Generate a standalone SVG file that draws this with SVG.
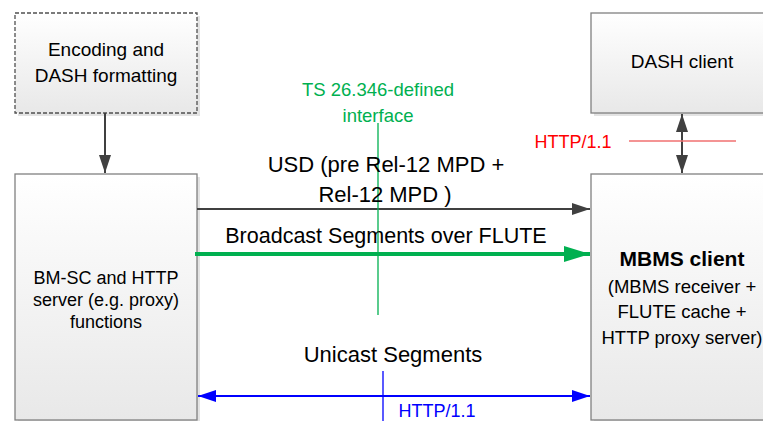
<svg xmlns="http://www.w3.org/2000/svg" width="763" height="421" viewBox="0 0 763 421">
<style>
text{font-family:"Liberation Sans",Arial,sans-serif;text-anchor:middle;fill:#000}
.box{fill:url(#g);stroke:#808080;stroke-width:1.3}
.shadow{fill:#d0d0d0;opacity:.6}
.dash{stroke-dasharray:4 2;stroke:#505050}
.dk{stroke:#404040;stroke-width:2;fill:none}
.bl{stroke:#0000ff;stroke-width:2;fill:none}
.gr{stroke:#00b050;fill:none}
</style>
<defs>
<linearGradient id="g" x1="0" y1="0" x2="0" y2="1">
<stop offset="0" stop-color="#ffffff"/>
<stop offset="1" stop-color="#e8e8e8"/>
</linearGradient>
<marker id="ad" markerWidth="18" markerHeight="12" refX="18" refY="6" orient="auto-start-reverse" markerUnits="userSpaceOnUse">
<path d="M0,0 L18,6 L0,12 z" fill="#404040"/>
</marker>
<marker id="ab" markerWidth="18" markerHeight="12" refX="18" refY="6" orient="auto-start-reverse" markerUnits="userSpaceOnUse">
<path d="M0,0 L18,6 L0,12 z" fill="#0000ff"/>
</marker>
<marker id="ag" markerWidth="26" markerHeight="16" refX="26" refY="8" orient="auto" markerUnits="userSpaceOnUse">
<path d="M0,0 L26,8 L0,16 z" fill="#00b050"/>
</marker>
</defs>
<rect width="763" height="421" fill="#fff"/>

<g id="encoding">
<rect class="shadow" x="18" y="16" width="182" height="100"/>
<rect class="box dash" x="15" y="13" width="182" height="100"/>
<text x="106" y="56" font-size="19">Encoding and</text>
<text x="106" y="82" font-size="19">DASH formatting</text>
</g>

<g id="bmsc">
<rect class="shadow" x="18" y="177" width="182" height="250"/>
<rect class="box" x="15" y="174" width="182" height="246"/>
<text x="106" y="284" font-size="18">BM-SC and HTTP</text>
<text x="106" y="306" font-size="18">server (e.g. proxy)</text>
<text x="106" y="328" font-size="18">functions</text>
</g>

<g id="dashclient">
<rect class="shadow" x="594" y="16" width="180" height="100"/>
<rect class="box" x="591" y="13" width="180" height="100"/>
<text x="682" y="68" font-size="19">DASH client</text>
</g>

<g id="mbms">
<rect class="shadow" x="594" y="177" width="180" height="250"/>
<rect class="box" x="591" y="174" width="180" height="246"/>
<text x="682" y="266" font-size="21" font-weight="bold">MBMS client</text>
<text x="682" y="293" font-size="18.5">(MBMS receiver +</text>
<text x="682" y="318" font-size="18.5">FLUTE cache +</text>
<text x="682" y="344" font-size="18.5">HTTP proxy server)</text>
</g>

<g id="connectors">
<line class="dk" x1="105" y1="113" x2="105" y2="173" marker-end="url(#ad)"/>
<line class="dk" x1="682" y1="114" x2="682" y2="173" marker-start="url(#ad)" marker-end="url(#ad)"/>
<line x1="629" y1="141" x2="736" y2="141" stroke="#f07070" stroke-width="1.5"/>
<line class="dk" x1="197" y1="209" x2="590" y2="209" marker-end="url(#ad)"/>
<line class="gr" x1="195" y1="254" x2="590" y2="254" stroke-width="4" marker-end="url(#ag)"/>
<line class="bl" x1="198" y1="396" x2="590" y2="396" marker-start="url(#ab)" marker-end="url(#ab)"/>
<line class="gr" x1="378" y1="123" x2="378" y2="315" stroke-width="1.3"/>
<line x1="383" y1="371" x2="383" y2="421" stroke="#0000ff" stroke-width="1.3"/>
</g>

<g id="labels">
<text x="378" y="96" font-size="18.5" style="fill:#00b050">TS 26.346-defined</text>
<text x="378" y="122" font-size="18.5" style="fill:#00b050">interface</text>
<text x="573" y="148" font-size="18" style="fill:#ff0000">HTTP/1.1</text>
<text x="386" y="172" font-size="22">USD (pre Rel-12 MPD +</text>
<text x="385" y="202" font-size="22">Rel-12 MPD )</text>
<text x="386" y="243" font-size="21.5">Broadcast Segments over FLUTE</text>
<text x="393" y="362" font-size="22">Unicast Segments</text>
<text x="437" y="417" font-size="18" style="fill:#0000ff">HTTP/1.1</text>
</g>
</svg>
